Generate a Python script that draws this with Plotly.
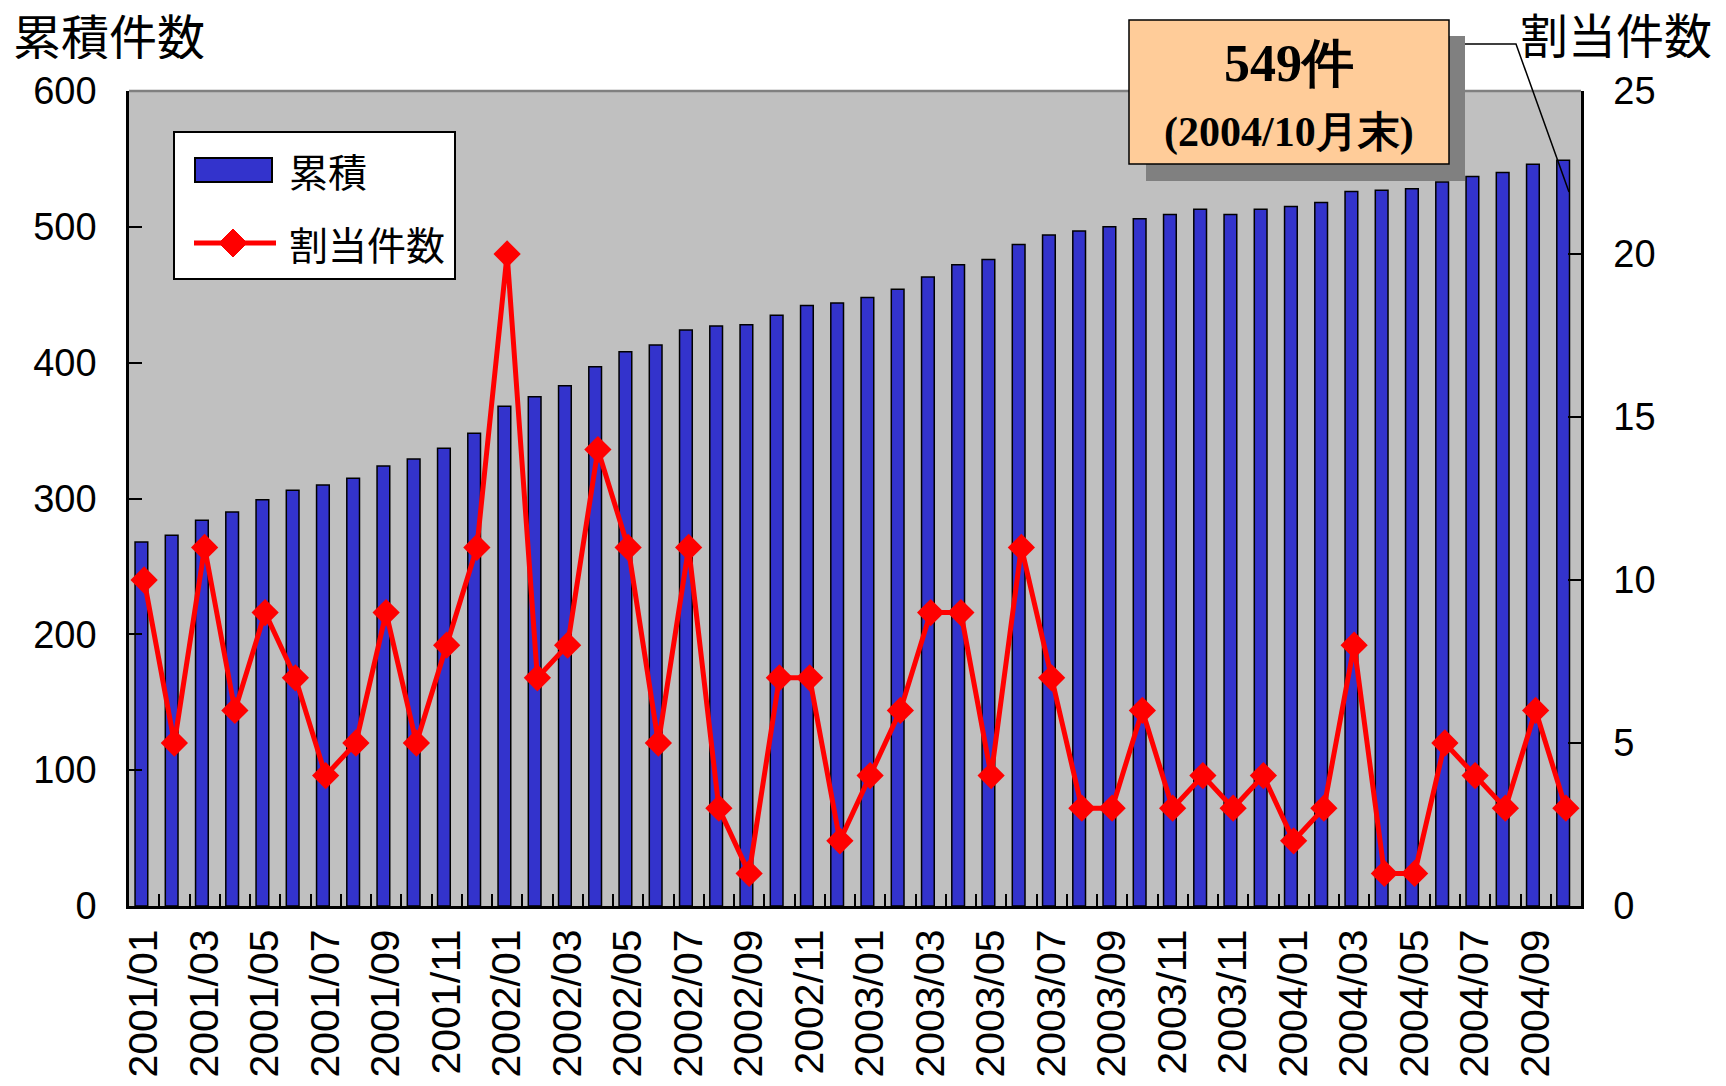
import plotly.graph_objects as go

# ---------------- data ----------------
months = [f"2001/{m:02d}" for m in range(1, 13)] + \
         [f"2002/{m:02d}" for m in range(1, 13)] + \
         [f"2003/{m:02d}" for m in range(1, 13)] + \
         ["2003/11", "2003/12"] + \
         [f"2004/{m:02d}" for m in range(1, 11)]

cumulative = [268, 273, 284, 290, 299, 306, 310, 315, 324, 329, 337, 348,
              368, 375, 383, 397, 408, 413, 424, 427, 428, 435, 442, 444,
              448, 454, 463, 472, 476, 487, 494, 497, 500, 506, 509, 513,
              509, 513, 515, 518, 526, 527, 528, 533, 537, 540, 546, 549]

assigned = [10, 5, 11, 6, 9, 7, 4, 5, 9, 5, 8, 11,
            20, 7, 8, 14, 11, 5, 11, 3, 1, 7, 7, 2,
            4, 6, 9, 9, 4, 11, 7, 3, 3, 6, 3, 4,
            3, 4, 2, 3, 8, 1, 1, 5, 4, 3, 6, 3]

series_names = ["累積", "割当件数"]
left_title = "累積件数"
right_title = "割当件数"
callout_line1 = "549件"
callout_line2 = "(2004/10月末)"

x = list(range(len(months)))
tick_idx = x[::2]
tick_text = [months[i] for i in tick_idx]
boundaries = [i + 0.5 for i in range(len(months) - 1)]

# ---------------- geometry (page coords; page body has an 8px margin) ----------------
OFF = 8
W, H = 1726 - 2 * OFF, 1086 - 2 * OFF
PL, PT, PRX, PB = 129, 91, 1581, 906          # plot area in page pixels
L, T = PL - OFF, PT - OFF
R, B = W - (PRX - OFF), H - (PB - OFF)
PW, PH = W - L - R, H - T - B


def px(v):
    return (v - OFF - L) / PW


def py(v):
    return 1 - (v - OFF - T) / PH


SANS = "Liberation Sans, Arial, sans-serif"
CJK = "Noto Sans CJK JP, Noto Sans, sans-serif"
SERIF = "Liberation Serif, Times New Roman, serif"

fig = go.Figure()
fig.add_trace(go.Bar(
    x=x, y=cumulative, name=series_names[0], width=0.42, offset=-0.30,
    marker=dict(color="#3333CC", line=dict(color="black", width=1.5)),
    yaxis="y", showlegend=False))
fig.add_trace(go.Scatter(
    x=x, y=assigned, name=series_names[1], mode="lines+markers",
    line=dict(color="#FF0000", width=5),
    marker=dict(symbol="diamond", size=21, color="#FF0000"),
    yaxis="y2", showlegend=False))

axis_common = dict(showgrid=False, zeroline=False, showline=True,
                   linecolor="black", ticks="inside", tickcolor="black",
                   tickwidth=2, ticklen=13, fixedrange=True)

fig.update_layout(
    width=W, height=H,
    margin=dict(l=L, r=R, t=T, b=B, autoexpand=False),
    paper_bgcolor="white", plot_bgcolor="#C0C0C0",
    xaxis=dict(range=[-0.5, len(months) - 0.5], tickmode="array",
               tickvals=tick_idx, ticktext=tick_text, tickangle=-90,
               ticks="", showline=True, linecolor="black", linewidth=3,
               showgrid=False, zeroline=False, fixedrange=True,
               tickfont=dict(family=SANS, size=41, color="black"),
               ticklabelstandoff=4,
               minor=dict(tickmode="array", tickvals=boundaries,
                          ticks="inside", ticklen=12, tickwidth=2,
                          tickcolor="black", showgrid=False)),
    yaxis=dict(range=[0, 600], tickmode="linear", tick0=0, dtick=100,
               linewidth=2.5, tickfont=dict(family=SANS, size=38, color="black"),
               ticklabelstandoff=22, **axis_common),
    yaxis2=dict(range=[0, 25], tickmode="linear", tick0=0, dtick=5,
                overlaying="y", side="right", linewidth=2.5,
                tickfont=dict(family=SANS, size=38, color="black"),
                ticklabelstandoff=22, **axis_common),
)

shapes = []
# top border of plot area (grey)
shapes.append(dict(type="line", xref="paper", yref="paper", x0=0, x1=1, y0=1, y1=1,
                   line=dict(color="#808080", width=2.5), layer="above"))

# legend
shapes.append(dict(type="rect", xref="paper", yref="paper",
                   x0=px(174), x1=px(455), y0=py(132), y1=py(279),
                   fillcolor="white", line=dict(color="black", width=2), layer="above"))
shapes.append(dict(type="rect", xref="paper", yref="paper",
                   x0=px(195), x1=px(272), y0=py(158), y1=py(182),
                   fillcolor="#3333CC", line=dict(color="black", width=2), layer="above"))
shapes.append(dict(type="line", xref="paper", yref="paper",
                   x0=px(194), x1=px(276), y0=py(243), y1=py(243),
                   line=dict(color="#FF0000", width=5), layer="above"))
dc, dy, hw = 233, 243, 14
shapes.append(dict(type="path", xref="paper", yref="paper",
                   path=f"M {px(dc - hw)},{py(dy)} L {px(dc)},{py(dy - hw)} "
                        f"L {px(dc + hw)},{py(dy)} L {px(dc)},{py(dy + hw)} Z",
                   fillcolor="#FF0000", line=dict(color="#FF0000", width=1), layer="above"))

# callout
shapes.append(dict(type="rect", xref="paper", yref="paper",
                   x0=px(1146), x1=px(1465), y0=py(36), y1=py(181),
                   fillcolor="#808080", line=dict(width=0), layer="above"))
shapes.append(dict(type="rect", xref="paper", yref="paper",
                   x0=px(1129), x1=px(1449), y0=py(20), y1=py(164),
                   fillcolor="#FFCC99", line=dict(color="black", width=1.5), layer="above"))
shapes.append(dict(type="path", xref="paper", yref="paper",
                   path=f"M {px(1465)},{py(44)} L {px(1516)},{py(44)} L {px(1569)},{py(192)}",
                   line=dict(color="black", width=1.5), layer="above"))

annotations = [
    dict(text=left_title, xref="paper", yref="paper", x=px(12), y=py(34),
         xanchor="left", yanchor="middle", showarrow=False, height=50,
         valign="middle", borderpad=0,
         font=dict(family=CJK, size=48, color="black")),
    dict(text=right_title, xref="paper", yref="paper", x=px(1519), y=py(33),
         xanchor="left", yanchor="middle", showarrow=False, height=50,
         valign="middle", borderpad=0,
         font=dict(family=CJK, size=48, color="black")),
    dict(text=series_names[0], xref="paper", yref="paper", x=px(287), y=py(170),
         xanchor="left", yanchor="middle", showarrow=False,
         font=dict(family=CJK, size=39, color="black")),
    dict(text=series_names[1], xref="paper", yref="paper", x=px(287), y=py(243),
         xanchor="left", yanchor="middle", showarrow=False,
         font=dict(family=CJK, size=39, color="black")),
    dict(text=f"<b>{callout_line1}</b>", xref="paper", yref="paper", x=px(1289), y=py(64),
         xanchor="center", yanchor="middle", showarrow=False,
         font=dict(family=SERIF, size=52, color="black")),
    dict(text=f"<b>{callout_line2}</b>", xref="paper", yref="paper", x=px(1289), y=py(132),
         xanchor="center", yanchor="middle", showarrow=False,
         font=dict(family=SERIF, size=42, color="black")),
]

fig.update_layout(shapes=shapes, annotations=annotations)
fig.write_html("out.html")
